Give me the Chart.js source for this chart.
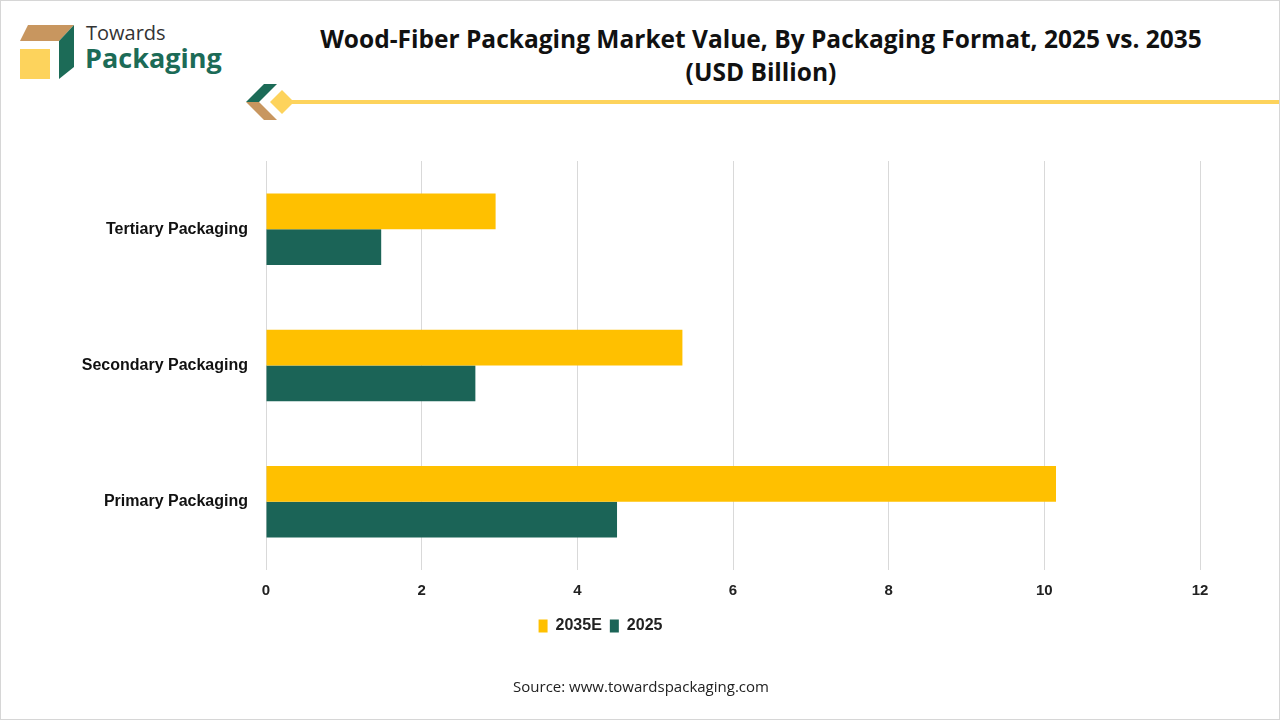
<!DOCTYPE html>
<html>
<head>
<meta charset="utf-8">
<script src="https://cdn.jsdelivr.net/npm/chart.js@4"></script>
<style>
  html, body { margin: 0; padding: 0; background: #fff; }
  #wrap { position: relative; width: 1280px; height: 720px; overflow: hidden; box-sizing: border-box; border: 1px solid #d6d6d6; }
  #chart { position: absolute; left: 0; top: 0; }
  .title { position: absolute; left: 240px; width: 1040px; top: 21px; text-align: center; font-family: "Open Sans", sans-serif; font-weight: 700; font-size: 24.5px; line-height: 33px; color: #111; }
  .source { position: absolute; left: 0; width: 1280px; top: 675px; text-align: center; font-family: "Open Sans", sans-serif; font-size: 15px; color: #222; }
  .brand1 { position: absolute; left: 85px; top: 18px; font-family: "Open Sans", sans-serif; font-size: 20px; color: #333; }
  .brand2 { position: absolute; left: 84px; top: 38px; font-family: "Open Sans", sans-serif; font-weight: 700; font-size: 27px; color: #1c6b57; }
</style>
</head>
<body>
<div id="wrap">
  <svg width="1280" height="130" style="position:absolute;left:0;top:0">
    <polygon points="27,24 73,24 58,40 19,40" fill="#c8965f"/>
    <rect x="19" y="48" width="30" height="30" fill="#fdd35c"/>
    <polygon points="73,24 73,66 58,78 58,40" fill="#1c6b57"/>
    <polygon points="263,83 276,83 258,101 245,101" fill="#1c6b57"/>
    <polygon points="245,101 258,101 276,119 263,119" fill="#c8965f"/>
    <polygon points="281,89 293,101 281,113 269,101" fill="#fdd35c"/>
    <rect x="290" y="99" width="990" height="4" fill="#fdd35c"/>
  </svg>
  <div class="brand1">Towards</div>
  <div class="brand2">Packaging</div>
  <div class="title">Wood-Fiber Packaging Market Value, By Packaging Format, 2025 vs. 2035<br>(USD Billion)</div>
  <canvas id="chart" width="1280" height="720"></canvas>
  <div class="source">Source: www.towardspackaging.com</div>
</div>
<script>
const categories = ['Tertiary Packaging', 'Secondary Packaging', 'Primary Packaging'];
const values2035 = [2.95, 5.35, 10.15];
const values2025 = [1.48, 2.69, 4.51];
const xTicks = [0, 2, 4, 6, 8, 10, 12];

const YELLOW = '#ffc000';
const GREEN = '#1b6457';

new Chart(document.getElementById('chart'), {
    type: 'bar',
    data: {
        labels: categories,
        datasets: [
            { label: '2035E', data: values2035, backgroundColor: YELLOW },
            { label: '2025', data: values2025, backgroundColor: GREEN }
        ]
    },
    options: {
        indexAxis: 'y',
        responsive: false,
        animation: false,
        devicePixelRatio: 1,
        categoryPercentage: 0.525,
        barPercentage: 1,
        layout: { padding: { top: 160, right: 81, bottom: 77, left: 0 } },
        plugins: {
            legend: {
                position: 'bottom',
                labels: {
                    boxWidth: 9,
                    boxHeight: 13,
                    padding: 8,
                    color: '#222',
                    font: { family: 'Liberation Sans Narrow, Liberation Sans', weight: 'bold', size: 16 }
                }
            },
            tooltip: { enabled: false }
        },
        scales: {
            x: {
                min: 0,
                max: 12,
                afterBuildTicks: s => { s.ticks = xTicks.map(v => ({ value: v })); },
                afterFit: s => { s.height = 40; },
                grid: { color: '#d9d9d9', drawTicks: false },
                border: { display: false },
                ticks: {
                    padding: 12,
                    color: '#222',
                    font: { family: 'Liberation Sans Narrow, Liberation Sans', weight: 'bold', size: 15 }
                }
            },
            y: {
                afterFit: s => { s.width = 265; },
                grid: { display: false },
                border: { display: false },
                ticks: {
                    padding: 10,
                    color: '#111',
                    font: { family: 'Liberation Sans', weight: 'bold', size: 16 }
                }
            }
        }
    }
});
</script>
</body>
</html>
